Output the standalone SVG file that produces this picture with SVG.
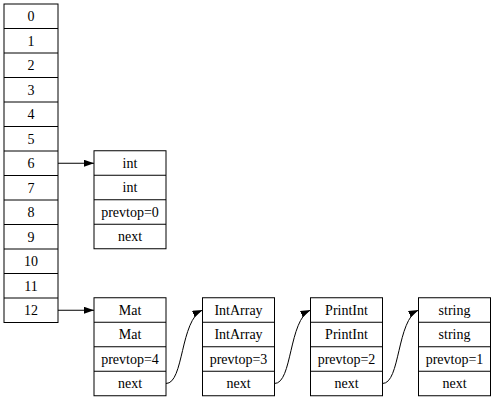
<svg xmlns="http://www.w3.org/2000/svg" width="495" height="400" viewBox="0 0 495 400">
<defs>
<style>
.box{fill:#fff;stroke:#000;stroke-width:1}
.sep{stroke:#000;stroke-width:1}
text{font-family:'Liberation Serif','DejaVu Serif','Times New Roman',serif;font-size:14px;fill:#000;text-anchor:middle}
.edge{fill:none;stroke:#000;stroke-width:1}
</style>
<marker id="ah" markerUnits="userSpaceOnUse" markerWidth="10" markerHeight="7" refX="10" refY="3.5" orient="auto">
<path d="M0,0 L10,3.5 L0,7 z" fill="#000"/>
</marker>
</defs>
<rect width="495" height="400" fill="#fff"/>
<g font-family="Liberation Serif, DejaVu Serif, serif">
<g id="stack">
<rect class="box" x="4" y="4" width="54" height="318.5"/>
<line class="sep" x1="4" y1="28.5" x2="58" y2="28.5"/>
<line class="sep" x1="4" y1="53" x2="58" y2="53"/>
<line class="sep" x1="4" y1="77.5" x2="58" y2="77.5"/>
<line class="sep" x1="4" y1="102" x2="58" y2="102"/>
<line class="sep" x1="4" y1="126.5" x2="58" y2="126.5"/>
<line class="sep" x1="4" y1="151" x2="58" y2="151"/>
<line class="sep" x1="4" y1="175.5" x2="58" y2="175.5"/>
<line class="sep" x1="4" y1="200" x2="58" y2="200"/>
<line class="sep" x1="4" y1="224.5" x2="58" y2="224.5"/>
<line class="sep" x1="4" y1="249" x2="58" y2="249"/>
<line class="sep" x1="4" y1="273.5" x2="58" y2="273.5"/>
<line class="sep" x1="4" y1="298" x2="58" y2="298"/>
<text x="31" y="21">0</text>
<text x="31" y="45.5">1</text>
<text x="31" y="70">2</text>
<text x="31" y="94.5">3</text>
<text x="31" y="119">4</text>
<text x="31" y="143.5">5</text>
<text x="31" y="168">6</text>
<text x="31" y="192.5">7</text>
<text x="31" y="217">8</text>
<text x="31" y="241.5">9</text>
<text x="31" y="266">10</text>
<text x="31" y="290.5">11</text>
<text x="31" y="315">12</text>
</g>
<g id="node_int">
<rect class="box" x="94" y="150.75" width="72" height="98"/>
<line class="sep" x1="94" y1="175.25" x2="166" y2="175.25"/>
<line class="sep" x1="94" y1="199.75" x2="166" y2="199.75"/>
<line class="sep" x1="94" y1="224.25" x2="166" y2="224.25"/>
<text x="130" y="167.75">int</text>
<text x="130" y="192.25">int</text>
<text x="130" y="216.75">prevtop=0</text>
<text x="130" y="241.25">next</text>
</g>
<g id="node_mat">
<rect class="box" x="94" y="297.75" width="72" height="98"/>
<line class="sep" x1="94" y1="322.25" x2="166" y2="322.25"/>
<line class="sep" x1="94" y1="346.75" x2="166" y2="346.75"/>
<line class="sep" x1="94" y1="371.25" x2="166" y2="371.25"/>
<text x="130" y="314.75">Mat</text>
<text x="130" y="339.25">Mat</text>
<text x="130" y="363.75">prevtop=4</text>
<text x="130" y="388.25">next</text>
</g>
<g id="node_intarray">
<rect class="box" x="202.5" y="297.75" width="72" height="98"/>
<line class="sep" x1="202.5" y1="322.25" x2="274.5" y2="322.25"/>
<line class="sep" x1="202.5" y1="346.75" x2="274.5" y2="346.75"/>
<line class="sep" x1="202.5" y1="371.25" x2="274.5" y2="371.25"/>
<text x="238.5" y="314.75">IntArray</text>
<text x="238.5" y="339.25">IntArray</text>
<text x="238.5" y="363.75">prevtop=3</text>
<text x="238.5" y="388.25">next</text>
</g>
<g id="node_printint">
<rect class="box" x="310.5" y="297.75" width="72" height="98"/>
<line class="sep" x1="310.5" y1="322.25" x2="382.5" y2="322.25"/>
<line class="sep" x1="310.5" y1="346.75" x2="382.5" y2="346.75"/>
<line class="sep" x1="310.5" y1="371.25" x2="382.5" y2="371.25"/>
<text x="346.5" y="314.75">PrintInt</text>
<text x="346.5" y="339.25">PrintInt</text>
<text x="346.5" y="363.75">prevtop=2</text>
<text x="346.5" y="388.25">next</text>
</g>
<g id="node_string">
<rect class="box" x="418.5" y="297.75" width="72" height="98"/>
<line class="sep" x1="418.5" y1="322.25" x2="490.5" y2="322.25"/>
<line class="sep" x1="418.5" y1="346.75" x2="490.5" y2="346.75"/>
<line class="sep" x1="418.5" y1="371.25" x2="490.5" y2="371.25"/>
<text x="454.5" y="314.75">string</text>
<text x="454.5" y="339.25">string</text>
<text x="454.5" y="363.75">prevtop=1</text>
<text x="454.5" y="388.25">next</text>
</g>
</g>
<g id="edges">
<path class="edge" d="M58,163.25 L94,163.25" marker-end="url(#ah)"/>
<path class="edge" d="M58,310.25 L94,310.25" marker-end="url(#ah)"/>
<path class="edge" d="M166,383.5 C184,383.5 180,320 202.5,310" marker-end="url(#ah)"/>
<path class="edge" d="M274.5,383.5 C292.5,383.5 288.5,320 310.5,310" marker-end="url(#ah)"/>
<path class="edge" d="M382.5,383.5 C400.5,383.5 396.5,320 418.5,310" marker-end="url(#ah)"/>
</g>
</svg>
